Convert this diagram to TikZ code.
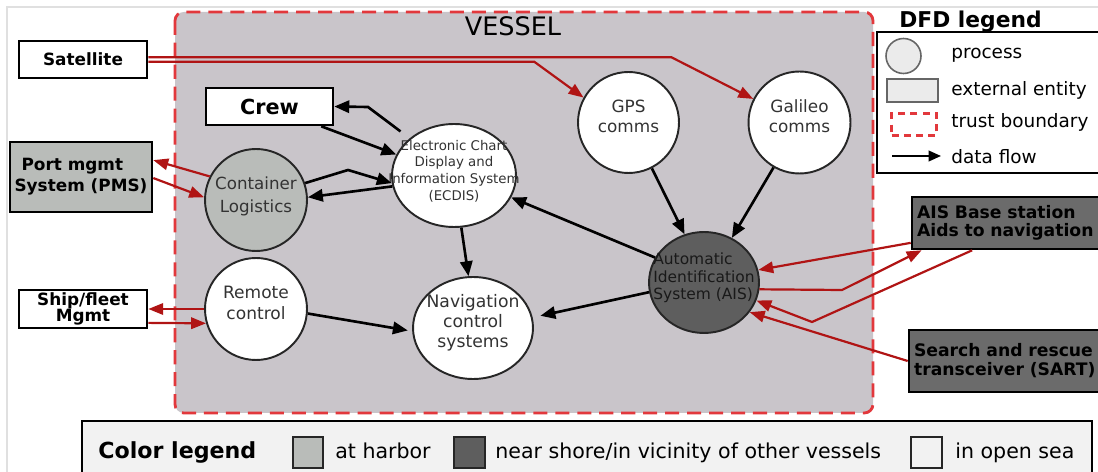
\documentclass[tikz,border=0pt]{standalone}
\usepackage{fontspec}
\setmainfont{DejaVu Sans}
\usetikzlibrary{arrows.meta,shapes.geometric}
\definecolor{vfill}{HTML}{C9C5CA}
\definecolor{vred}{HTML}{E2383C}
\definecolor{ared}{HTML}{B01414}
\definecolor{harbor}{HTML}{B9BCB9}
\definecolor{shore}{HTML}{5E5E5E}
\definecolor{shorebox}{HTML}{6B6B6B}
\definecolor{sea}{HTML}{F2F2F2}
\definecolor{ptext}{HTML}{333333}
\newcommand\proctext[2][c]{\makebox[0pt]{\smash{\begin{tabular}{@{}#1@{}}#2\end{tabular}}}}
\begin{document}
\begin{tikzpicture}[x=0.02cm,y=-0.02cm,
  ent/.style={draw=black,line width=1.5pt,font=\bfseries\fontsize{9.6}{10}\selectfont,inner sep=0pt,align=center},
  proc/.style={circle,draw=black!85,line width=1.1pt,fill=white,inner sep=0pt,text=ptext,font=\fontsize{9.6}{11.5}\selectfont},
  bflow/.style={-{Triangle[length=8.5pt,width=7pt]},line width=1.5pt,black},
  rflow/.style={-{Triangle[length=8.5pt,width=6.5pt]},line width=1.25pt,ared},
  lgtext/.style={anchor=west,font=\fontsize{10.5}{12}\selectfont,inner sep=0pt},
  cltext/.style={anchor=base west,font=\fontsize{11.7}{13}\selectfont,inner sep=0pt},
  clsq/.style={draw=black!85,line width=1pt,minimum size=0.61cm,inner sep=0pt},
]
\useasboundingbox (0,0) rectangle (1098,472);
\fill[white] (0,0) rectangle (1098,472);
\draw[black!12,line width=0.8pt] (7,480) -- (7,7) -- (1100,7);

% vessel trust boundary
\draw[draw=vred,fill=vfill,line width=1.6pt,dash pattern=on 8pt off 4.5pt,rounded corners=5pt] (175,12) rectangle (873,413);
\node[font=\fontsize{14.5}{16}\selectfont,inner sep=0pt] (vesseltitle) at (513,26) {VESSEL};

% external entities
\node[ent,fill=white,minimum width=2.56cm,minimum height=0.74cm] (sat) at (83,59.5) {Satellite};
\node[ent,fill=white,font=\bfseries\fontsize{11.8}{13}\selectfont,minimum width=2.54cm,minimum height=0.74cm] (crew) at (269.5,106.5) {Crew};
\node[ent,fill=harbor,minimum width=2.84cm,minimum height=1.40cm,align=left,font=\bfseries\fontsize{9.6}{12}\selectfont] (pms) at (81,177) {\hspace*{4pt}Port mgmt\\System (PMS)};
\node[ent,fill=white,minimum width=2.56cm,minimum height=0.76cm,font=\bfseries\fontsize{9.6}{9.5}\selectfont] (ship) at (83,309) {Ship/fleet\\Mgmt};
\node[ent,fill=shorebox,align=left,text width=3.66cm,inner xsep=0.1cm,minimum height=1.04cm,font=\bfseries\fontsize{9.8}{10}\selectfont] (aisb) at (1008.5,223) {AIS Base station\\Aids to navigation};
\node[ent,fill=shorebox,align=left,text width=3.72cm,inner xsep=0.1cm,minimum height=1.24cm,font=\bfseries\fontsize{9.8}{10.8}\selectfont] (sart) at (1007,361) {Search and rescue\\transceiver (SART)};

% processes
\node[proc,fill=harbor,minimum size=2.04cm,font=\fontsize{9.5}{13}\selectfont] (cont) at (256,200) {\proctext{Container\\Logistics}};
\node[proc,ellipse,minimum width=2.48cm,minimum height=2.06cm,font=\fontsize{7.6}{9.5}\selectfont] (ecdis) at (454,175.5) {\proctext{Electronic Chart\\Display and\\Information System\\(ECDIS)}};
\node[proc,minimum size=2.02cm] (gps) at (628.5,122.5) {\proctext{GPS\\comms}};
\node[proc,minimum size=2.04cm] (gal) at (799.5,122.5) {\proctext{Galileo\\comms}};
\node[proc,ellipse,fill=shore,text=black!90,minimum width=2.2cm,minimum height=2.02cm,font=\fontsize{8.8}{10}\selectfont] (ais) at (704,282.5) {\proctext[l]{Automatic\\Identification\\System (AIS)}};
\node[proc,minimum size=2.04cm,font=\fontsize{9.7}{12}\selectfont] (rem) at (256,309) {\proctext{Remote\\control}};
\node[proc,ellipse,minimum width=2.4cm,minimum height=2.04cm,font=\fontsize{9.8}{11.3}\selectfont] (nav) at (473,328) {\proctext{Navigation\\control\\systems}};

% data flows
\draw[rflow] ([yshift=1.3pt]sat.east) -- ++(523,0) -- (gal.153);
\draw[rflow] ([yshift=-1.3pt]sat.east) -- ++(386,0) -- (gps.151);
\draw[bflow] ([xshift=-7.4pt]crew.south east) -- (ecdis.160);
\draw[bflow,shorten <=6.5pt] (ecdis.140) -- (368,107) -- (crew.east);
\draw[bflow] (cont.19) -- (348,170) -- (ecdis.187);
\draw[bflow] (ecdis.190) -- (cont.3);
\draw[rflow] (cont.153) -- ([yshift=9.6pt]pms.east);
\draw[rflow] ([yshift=-0.6pt]pms.east) -- (cont.177);
\draw[rflow] (rem.west) -- (ship.east);
\draw[rflow] ([yshift=-7.9pt]ship.east) -- (rem.196);
\draw[bflow,shorten >=2.5pt] (rem.-5) -- (nav.183);
\draw[bflow] (ecdis.-82) -- (nav.95);
\draw[bflow] (ais.153) -- (ecdis.-21);
\draw[bflow,shorten >=4.5pt] (ais.190) -- (nav.10);
\draw[bflow] (gps.-63) -- (ais.112);
\draw[bflow] (gal.-120) -- (ais.58);
\draw[rflow] ([yshift=-11.3pt]aisb.west) -- (ais.13);
\draw[rflow] (ais.-7) -- (842,290) -- ([xshift=6.2pt]aisb.south west);
\draw[rflow] ([xshift=-20.7pt]aisb.south) -- (812,322) -- (ais.-19);
\draw[rflow] (sart.west) -- (ais.-33);

% DFD legend
\node[anchor=base west,inner sep=0pt,font=\bfseries\fontsize{12.4}{14}\selectfont] (dfdtitle) at (899,28) {DFD legend};
\node[draw=black,line width=1.5pt,fill=white,minimum width=4.6cm,minimum height=2.82cm,inner sep=0pt] (dfdbox) at (992,102.5) {};
\node[circle,draw=black!60,fill=black!8,line width=0.9pt,minimum size=0.7cm,inner sep=0pt] (lgproc) at (903.5,56) {};
\node[draw=black!60,fill=black!8,line width=0.9pt,minimum width=1.02cm,minimum height=0.46cm,inner sep=0pt] (lgent) at (912.5,90.5) {};
\node[draw=vred,line width=1.3pt,dash pattern=on 4pt off 3pt,minimum width=0.9cm,minimum height=0.44cm,inner sep=0pt] (lgtb) at (914,124.5) {};
\coordinate (lgf1) at (892,156);
\coordinate (lgf2) at (941,156);
\draw[-{Triangle[length=7pt,width=6pt]},line width=1.1pt] (lgf1) -- (lgf2);
\node[lgtext] (lgt1) at (951,55) {process};
\node[lgtext] (lgt2) at (951,90) {external entity};
\node[lgtext] (lgt3) at (951,122) {trust boundary};
\node[lgtext] (lgt4) at (951,157) {data flow};

% color legend
\node[draw=black,line width=1.5pt,fill=sea,minimum width=20.2cm,minimum height=1.2cm,inner sep=0pt] (clbox) at (587,451) {};
\node[anchor=base west,inner sep=0pt,font=\bfseries\fontsize{12.6}{14}\selectfont] (cltitle) at (98,459) {Color legend};
\node[clsq,fill=harbor] (sqh) at (308,452.5) {};
\node[cltext] (clt1) at (335,459) {at harbor};
\node[clsq,fill=shore] (sqs) at (469.5,452.5) {};
\node[cltext] (clt2) at (495,459) {near shore/in vicinity of other vessels};
\node[clsq,fill=sea] (sqo) at (926.5,452.5) {};
\node[cltext] (clt3) at (955,459) {in open sea};
\end{tikzpicture}
\end{document}
